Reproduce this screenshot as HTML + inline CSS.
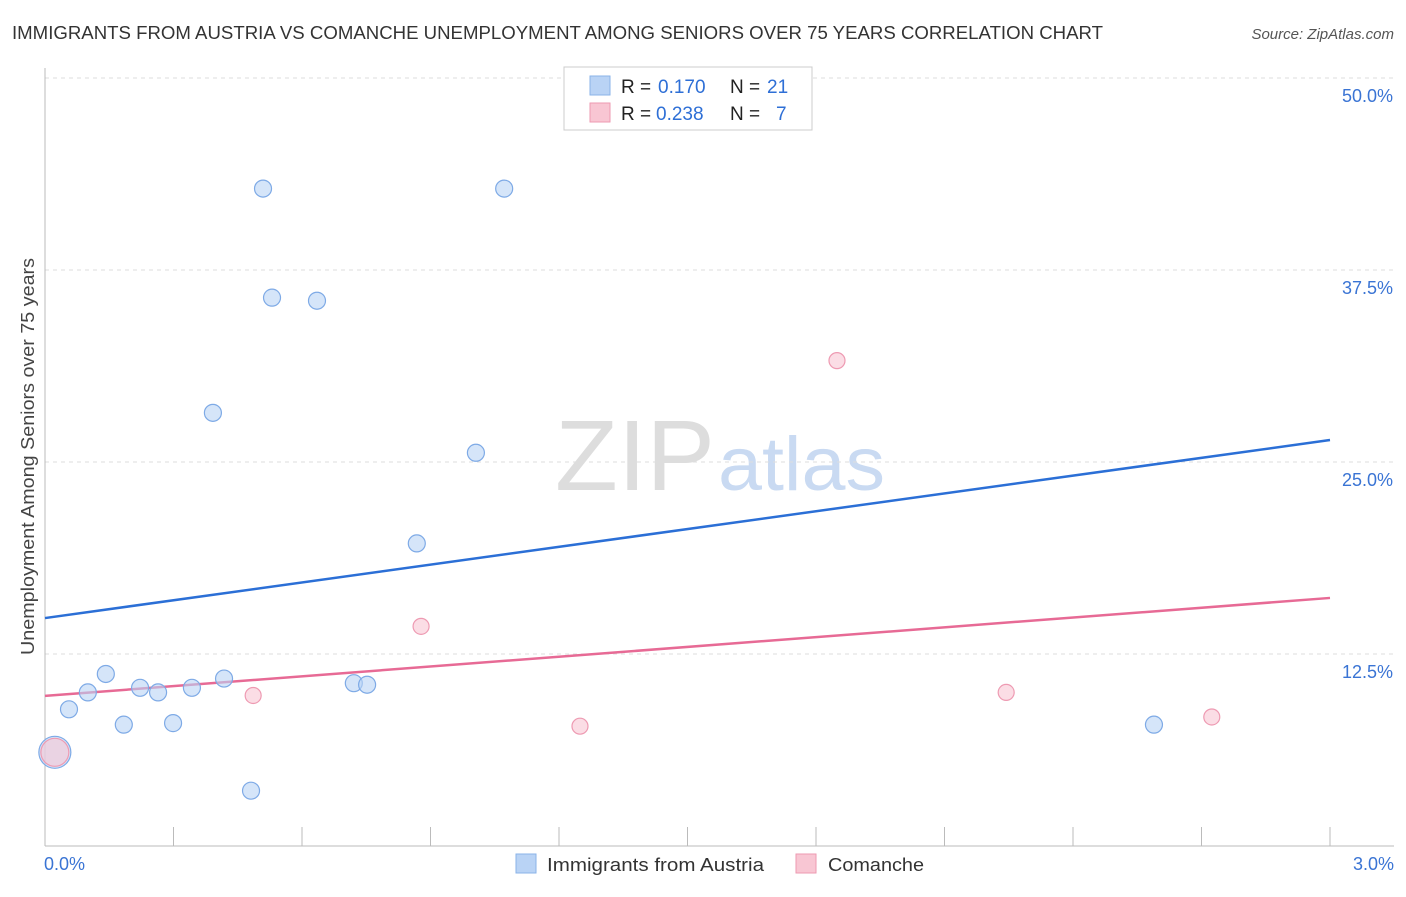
<!DOCTYPE html>
<html><head><meta charset="utf-8"><style>
body{margin:0;background:#fff;font-family:"Liberation Sans",sans-serif;}
svg text{font-family:"Liberation Sans",sans-serif;}
</style></head><body>
<svg id="chart" width="1406" height="892" xmlns="http://www.w3.org/2000/svg">
<text x="12" y="39" font-size="18" fill="#333" textLength="1091" lengthAdjust="spacingAndGlyphs">IMMIGRANTS FROM AUSTRIA VS COMANCHE UNEMPLOYMENT AMONG SENIORS OVER 75 YEARS CORRELATION CHART</text>
<text x="1394" y="39" font-size="15" fill="#555" font-style="italic" text-anchor="end">Source: ZipAtlas.com</text>
<text x="34" y="655" font-size="18" fill="#444" textLength="397" lengthAdjust="spacingAndGlyphs" transform="rotate(-90 34 655)">Unemployment Among Seniors over 75 years</text>
<text x="555" y="490" font-size="100" fill="#ddd" font-family="Liberation Serif" textLength="160" lengthAdjust="spacingAndGlyphs">ZIP</text>
<text x="718" y="490" font-size="76" fill="#c9daf2" textLength="167" lengthAdjust="spacingAndGlyphs">atlas</text>
<g id="grid"></g><g id="axes"></g><g id="lines"></g><g id="pts"></g>
<g>
<rect x="564" y="67" width="248" height="63" fill="#fff" stroke="#ccc"/>
<rect x="590" y="76" width="20" height="19" fill="#b9d3f5" stroke="#8ab3e8"/>
<rect x="590" y="103" width="20" height="19" fill="#f8c6d3" stroke="#ee9ab2"/>
<text x="621" y="93" font-size="19" fill="#222">R =</text>
<text x="658" y="93" font-size="19" fill="#2e6fd6">0.170</text>
<text x="730" y="93" font-size="19" fill="#222">N =</text>
<text x="767" y="93" font-size="19" fill="#2e6fd6">21</text>
<text x="621" y="120" font-size="19" fill="#222">R =</text>
<text x="656" y="120" font-size="19" fill="#2e6fd6">0.238</text>
<text x="730" y="120" font-size="19" fill="#222">N =</text>
<text x="776" y="120" font-size="19" fill="#2e6fd6">7</text>
</g>
<g>
<rect x="516" y="854" width="20" height="19" fill="#b9d3f5" stroke="#8ab3e8"/>
<text x="547" y="871" font-size="18" fill="#333" textLength="217" lengthAdjust="spacingAndGlyphs">Immigrants from Austria</text>
<rect x="796" y="854" width="20" height="19" fill="#f8c6d3" stroke="#ee9ab2"/>
<text x="828" y="871" font-size="18" fill="#333" textLength="96" lengthAdjust="spacingAndGlyphs">Comanche</text>
</g>
</svg>
<script>
const blueX=[0.509,1.072,0.530,0.635,0.392,1.006,0.868,0.142,0.100,0.222,0.264,0.343,0.418,0.056,0.184,0.299,0.721,0.752,0.481,2.589,0.023];
const blueY=[42.8,42.8,35.7,35.5,28.2,25.6,19.7,11.2,10.0,10.3,10.0,10.3,10.9,8.9,7.9,8.0,10.6,10.5,3.6,7.9,6.1];
const pinkX=[1.849,0.878,0.486,1.249,2.244,2.724,0.023];
const pinkY=[31.6,14.3,9.8,7.8,10.0,8.4,6.1];
const blueTrend=[14.84,26.43];
const pinkTrend=[9.77,16.15];
const yTicks=[12.5,25.0,37.5,50.0];
const xTicks=[0,0.3,0.6,0.9,1.2,1.5,1.8,2.1,2.4,2.7,3.0];
const NS='http://www.w3.org/2000/svg';
const sx=v=>45+v/3*1285, sy=v=>846-v/12.5*192;
function mk(t,a,p){const e=document.createElementNS(NS,t);for(const k in a)e.setAttribute(k,a[k]);document.getElementById(p).appendChild(e);return e;}
yTicks.forEach(t=>{
 const l=mk('line',{x1:45,x2:1394,y1:sy(t),y2:sy(t),stroke:'#ddd','stroke-dasharray':'4 4'},'grid');
 
 
 const tx=mk('text',{x:1393,y:sy(t)+24,'font-size':18,fill:'#3a74d4','text-anchor':'end'},'grid');
 tx.textContent=t.toFixed(1)+'%';
 
 
});
const ax=mk('line',{x1:45,x2:1394,y1:846,y2:846,stroke:'#bbb'},'axes');


const ay=mk('line',{x1:45,x2:45,y1:68,y2:846,stroke:'#bbb'},'axes');


xTicks.forEach((t,i)=>{
 const l=mk('line',{x1:sx(t),x2:sx(t),y1:i==0?846:827,y2:846,stroke:'#bbb'},'axes');
 
 
});
[[0,'0.0%','start',44],[3,'3.0%','end',1394]].forEach(d=>{
 const tx=mk('text',{x:d[3],y:870,'font-size':18,fill:'#3a74d4','text-anchor':d[2]},'axes');
 tx.textContent=d[1];
 
 
});
const bl=mk('line',{x1:sx(0),x2:sx(3),y1:sy(blueTrend[0]),y2:sy(blueTrend[1]),stroke:'#2b6fd6','stroke-width':2.5},'lines');


const pl=mk('line',{x1:sx(0),x2:sx(3),y1:sy(pinkTrend[0]),y2:sy(pinkTrend[1]),stroke:'#e76a95','stroke-width':2.5},'lines');


blueX.forEach((x,i)=>{
 const c=mk('circle',{cx:sx(x),cy:sy(blueY[i]),r:i==20?16:8.5,fill:'rgba(185,211,245,0.6)',stroke:'#7eaae6','stroke-width':1.2},'pts');
 
 
});
pinkX.forEach((x,i)=>{
 const c=mk('circle',{cx:sx(x),cy:sy(pinkY[i]),r:i==6?14:8,fill:'rgba(248,198,211,0.6)',stroke:'#ee9ab2','stroke-width':1.2},'pts');
 
 
});
</script>
</body></html>
